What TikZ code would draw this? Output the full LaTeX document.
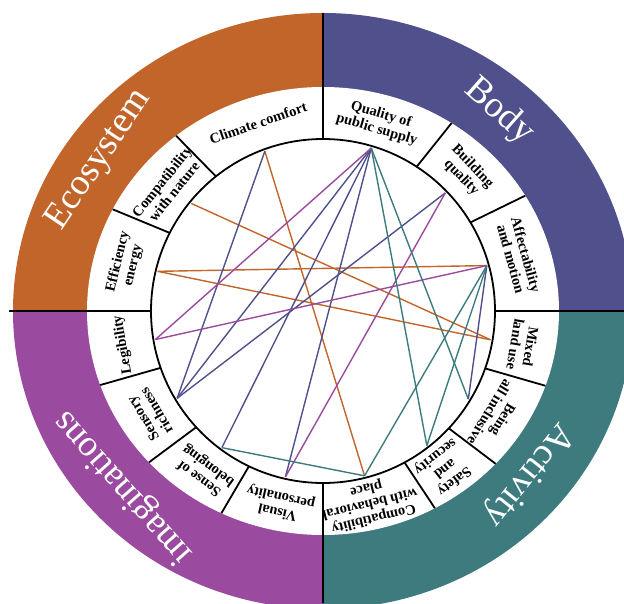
\documentclass[tikz,border=0pt]{standalone}
\usepackage{fontspec}
\setmainfont{Liberation Serif}
\usepackage{tikz}
\definecolor{ecoc}{RGB}{194,101,43}
\definecolor{bodyc}{RGB}{80,80,140}
\definecolor{actc}{RGB}{61,123,127}
\definecolor{imac}{RGB}{154,74,159}
\def\seg#1{\draw[divider] (#1:172) -- ({236*cos(#1)},{224*sin(#1)})}
\def\quarter#1#2{\fill[#1] (0,0) -- (#2:310 and 298) arc[start angle=#2,delta angle=90,x radius=310,y radius=298] -- cycle}
\def\ringlabel{\node[text=white,font=\fontsize{37}{40}\selectfont]}
\tikzset{
  divider/.style={line width=1.8pt},
  lab/.style={font=\bfseries\fontsize{14.5}{15.5}\selectfont,align=center,inner sep=0pt},
  link/.style={line width=1.4pt}
}

\begin{document}
\begin{tikzpicture}[x=1pt,y=1pt]
\useasboundingbox (-323,-292) rectangle (301,311);
% four quarters of the ring
\quarter{bodyc}{0};
\quarter{ecoc}{90};
\quarter{imac}{180};
\quarter{actc}{270};
\fill[white] (0,0) ellipse[x radius=236,y radius=224];
\draw[divider] (0,0) circle[radius=172];
% main axes
\draw[divider] (172,0) -- (301,0);
\draw[divider] (-172,0) -- (-314,0);
\draw[divider] (0,172) -- (0,298);
\draw[divider] (0,-172) -- (0,-292);
% segment borders
\seg{128.5}; \seg{153};
\seg{57}; \seg{31};
\seg{-19.5}; \seg{-43}; \seg{-61.7};
\seg{199.3}; \seg{222.5}; \seg{244.5};
% ring labels
\ringlabel[rotate=56] (eco) at (146:270) {Ecosystem};
\ringlabel[rotate=-41.5] (body) at (48.5:266) {Body};
\ringlabel[rotate=-128.6] (act) at (-38.6:262) {Activity};
\ringlabel[rotate=131.5] (ima) at (221.5:266) {imaginations};
% criteria
\node[lab,rotate=19] (tclimate) at (109:199) {Climate comfort};
\node[lab,rotate=51.2] (tnature) at (141.2:199) {Compatibility\\with nature};
\node[lab,rotate=76.5] (tenergy) at (166.5:203) {Efficiency\\energy};
\node[lab,rotate=-16.5] (tsupply) at (73.5:197) {Quality of\\public supply};
\node[lab,rotate=-46] (tbuilding) at (44:200) {Building\\quality};
\node[lab,rotate=-74.5] (tmotion) at (15.5:203) {Affectability\\and motion};
\node[lab,rotate=-99.75] (tmixed) at (-9.75:203) {Mixed\\land use};
\node[lab,rotate=-121.25] (tinclusive) at (-31.25:203) {Being\\all inclusive};
\node[lab,rotate=-142.35] (tsafety) at (-52.35:199) {Safety\\and\\security};
\node[lab,rotate=-166.3] (tbehav) at (-76.3:198) {Compatibility\\with behavioral\\place};
\node[lab,rotate=167.25] (tvisual) at (257.25:198) {Visual\\personality};
\node[lab,rotate=143.5] (tbelong) at (233.5:200) {Sense of\\belonging};
\node[lab,rotate=120.9] (tsensory) at (210.9:202) {Sensory\\richness};
\node[lab,rotate=99.65] (tlegib) at (189.65:203) {Legibility};
% link ends
\foreach \n/\a in {climate/110,nature/140.75,energy/166.5,supply/73.5,building/44,
    motion/15.5,mixed/-9.75,inclusive/-31.25,safety/-52.35,behav/-75.85,
    visual/257.25,belong/233.5,sensory/210.9,legib/189.65}
  \coordinate (\n) at (\a:170);
% links
\draw[link,ecoc] (climate) -- (behav);
\draw[link,ecoc] (nature) -- (mixed);
\draw[link,ecoc] (energy) -- (motion);
\draw[link,ecoc] (energy) -- (mixed);
\draw[link,bodyc] (climate) -- (sensory);
\draw[link,bodyc] (supply) -- (sensory);
\draw[link,bodyc] (supply) -- (belong);
\draw[link,bodyc] (supply) -- (visual);
\draw[link,bodyc] (building) -- (sensory);
\draw[link,bodyc] (motion) -- (inclusive);
\draw[link,imac] (legib) -- (supply);
\draw[link,imac] (legib) -- (motion);
\draw[link,imac] (visual) -- (building);
\draw[link,actc] (belong) -- (behav);
\draw[link,actc] (supply) -- (safety);
\draw[link,actc] (supply) -- (inclusive);
\draw[link,actc] (motion) -- (behav);
\draw[link,actc] (motion) -- (safety);
\end{tikzpicture}
\end{document}
